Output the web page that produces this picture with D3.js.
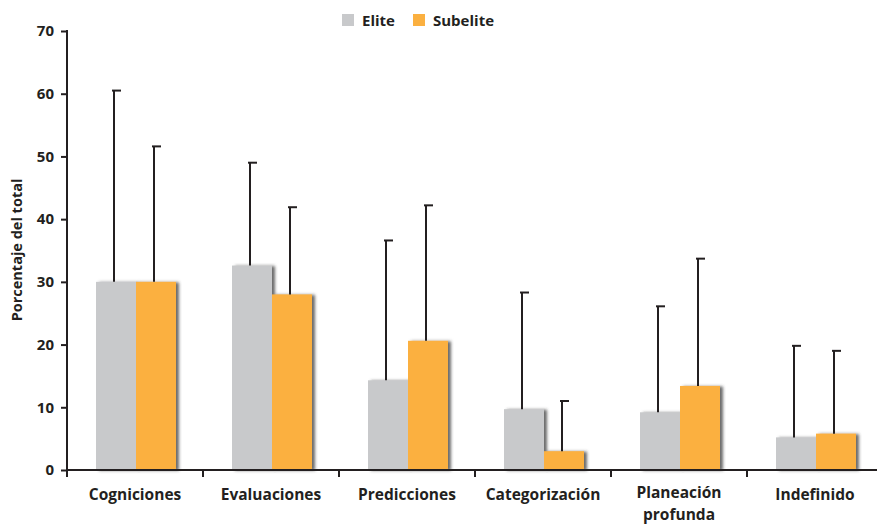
<!DOCTYPE html>
<html>
<head>
<meta charset="utf-8">
<script src="https://cdn.jsdelivr.net/npm/d3@7"></script>
<style>
  html, body { margin: 0; padding: 0; background: #fff; }
  svg { display: block; font-family: "Open Sans", "Noto Sans", sans-serif; }
</style>
</head>
<body>
<svg id="chart" width="877" height="524"></svg>
<script>
// Categories (multi-line labels split on "\n")
const categories = ["Cogniciones", "Evaluaciones", "Predicciones", "Categorización", "Planeación\nprofunda", "Indefinido"];
const seriesNames = ["Elite", "Subelite"];
// Mean percentages
const eliteValues    = [30.0, 32.6, 14.3, 9.7, 9.2, 5.2];
const subeliteValues = [30.0, 28.0, 20.6, 3.0, 13.4, 5.8];
// Upper end of each error bar
const eliteUpper    = [60.5, 49.0, 36.6, 28.3, 26.1, 19.8];
const subeliteUpper = [51.6, 41.9, 42.2, 11.0, 33.7, 19.0];
const yTicks = [0, 10, 20, 30, 40, 50, 60, 70];
const colors = ["#c8c9cb", "#fbb040"];
const ink = "#231f20";

const svg = d3.select("#chart");

const defs = svg.append("defs");
const f = defs.append("filter").attr("id", "shadow")
  .attr("x", "-20%").attr("y", "-20%").attr("width", "140%").attr("height", "140%");
f.append("feDropShadow").attr("dx", 3).attr("dy", 0.5).attr("stdDeviation", 1.4)
  .attr("flood-color", "#3a3a3a").attr("flood-opacity", 0.75);

const x0 = d3.scaleBand().domain(categories).range([67, 883]).paddingInner(0).paddingOuter(0);
const x1 = d3.scaleBand().domain(seriesNames).range([0, 80]);
const y = d3.scaleLinear().domain([0, 70]).range([470, 31]);

const rows = categories.map((c, i) => ({
  cat: c,
  vals: [
    { s: "Elite", v: eliteValues[i], up: eliteUpper[i], col: colors[0] },
    { s: "Subelite", v: subeliteValues[i], up: subeliteUpper[i], col: colors[1] }
  ]
}));

const groupOffset = (x0.bandwidth() - 80) / 2 + 1;

const g = svg.append("g").selectAll("g.cat").data(rows).join("g")
  .attr("class", "cat")
  .attr("transform", d => `translate(${x0(d.cat) + groupOffset},0)`);

// Bars
g.selectAll("rect").data(d => d.vals).join("rect")
  .attr("x", d => x1(d.s))
  .attr("width", x1.bandwidth())
  .attr("y", d => y(d.v))
  .attr("height", d => y(0) - y(d.v))
  .attr("fill", d => d.col)
  .attr("filter", "url(#shadow)");

// Error bars (upper whisker only)
const eb = g.selectAll("g.err").data(d => d.vals).join("g").attr("class", "err")
  .attr("transform", d => `translate(${x1(d.s) + x1.bandwidth() / 2 - 2},0)`);
eb.append("line")
  .attr("x1", 0).attr("x2", 0)
  .attr("y1", d => y(d.v)).attr("y2", d => y(d.up))
  .attr("stroke", ink).attr("stroke-width", 2);
eb.append("line")
  .attr("x1", -2).attr("x2", 7)
  .attr("y1", d => y(d.up)).attr("y2", d => y(d.up))
  .attr("stroke", ink).attr("stroke-width", 2);

// Y axis
const yAxis = d3.axisLeft(y).tickValues(yTicks).tickSize(6).tickPadding(7);
const ya = svg.append("g").attr("transform", "translate(67,0)").call(yAxis);
ya.select(".domain").remove();
ya.append("line").attr("x1", 0).attr("x2", 0).attr("y1", 30).attr("y2", 477)
  .attr("stroke", ink).attr("stroke-width", 2);
ya.selectAll(".tick line").attr("stroke", ink).attr("stroke-width", 2);
ya.selectAll(".tick text")
  .attr("fill", ink).attr("font-size", 15).attr("font-weight", 700)
  .attr("font-family", "'Open Sans', sans-serif");

// X axis
const xa = svg.append("g").attr("transform", "translate(0,470)");
xa.append("line").attr("x1", 66).attr("x2", 877).attr("y1", 0).attr("y2", 0)
  .attr("stroke", ink).attr("stroke-width", 2);
xa.selectAll("line.tk").data(categories.slice(1)).join("line").attr("class", "tk")
  .attr("x1", d => x0(d)).attr("x2", d => x0(d))
  .attr("y1", 0).attr("y2", 7)
  .attr("stroke", ink).attr("stroke-width", 2);
// Category labels: one text element per line
categories.forEach(d => {
  const lines = d.split("\n");
  const cx = x0(d) + x0.bandwidth() / 2;
  const base = lines.length > 1 ? 28 : 29.5;
  lines.forEach((l, i) => {
    xa.append("text")
      .attr("x", cx)
      .attr("y", base + i * 21.5)
      .attr("text-anchor", "middle")
      .attr("fill", ink).attr("font-size", 15.5).attr("font-weight", 700)
      .text(l);
  });
});

// Y axis title
svg.append("text")
  .attr("transform", "translate(22,250) rotate(-90)")
  .attr("text-anchor", "middle")
  .attr("fill", ink).attr("font-size", 14.5).attr("font-weight", 700)
  .text("Porcentaje del total");

// Legend
const legendX = [342, 413];
const lg = svg.append("g").selectAll("g").data(seriesNames).join("g")
  .attr("transform", (d, i) => `translate(${legendX[i]},14)`);
lg.append("rect").attr("width", 12).attr("height", 12)
  .attr("fill", (d, i) => colors[i]);
lg.append("text").attr("x", 20).attr("y", 12)
  .attr("fill", ink).attr("font-size", 15).attr("font-weight", 700)
  .text(d => d);
</script>
</body>
</html>
